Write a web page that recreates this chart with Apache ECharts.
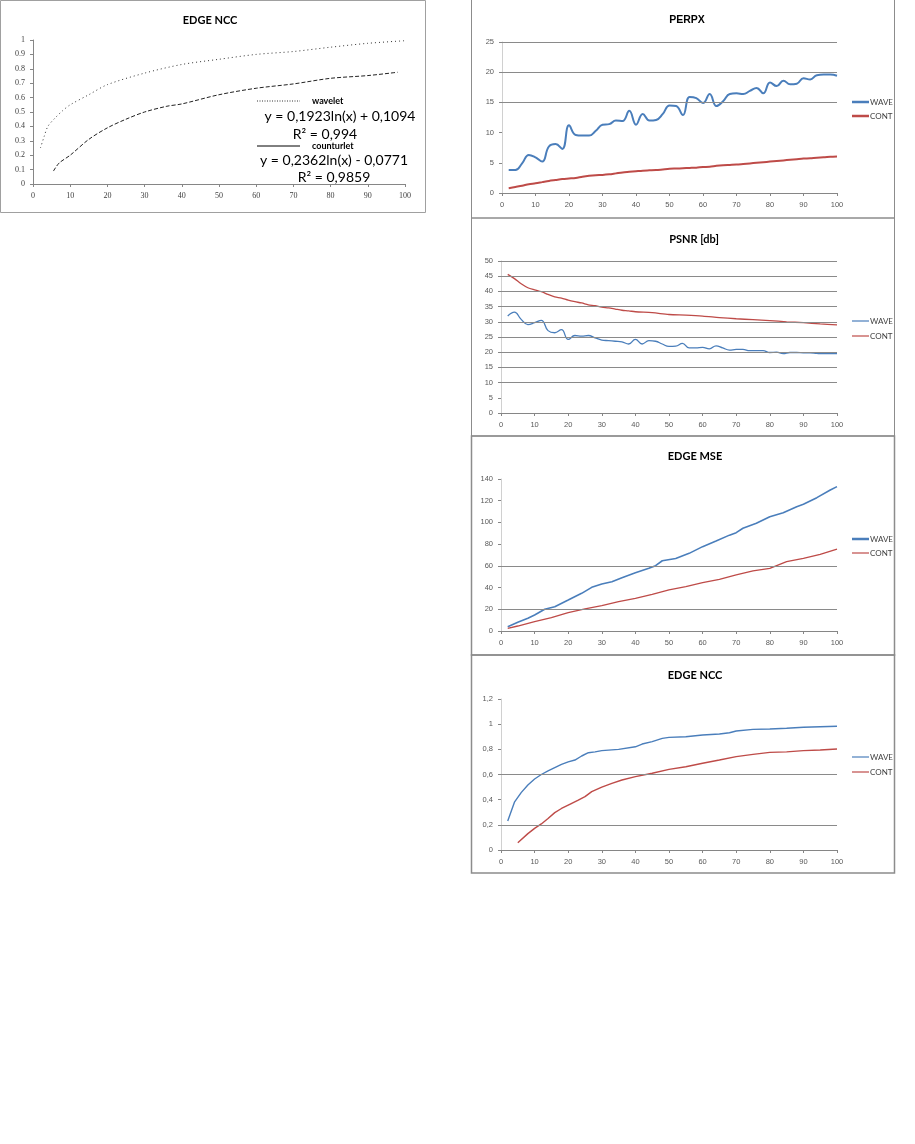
<!DOCTYPE html>
<html>
<head>
<meta charset="utf-8">
<script src="https://cdn.jsdelivr.net/npm/echarts@6/dist/echarts.min.js"></script>
<style>
html,body{margin:0;padding:0;background:#fff;}
#c{width:915px;height:1144px;}
</style>
</head>
<body>
<div id="c"></div>
<script>
// ---------- DATA ----------
const xTicks = [0,10,20,30,40,50,60,70,80,90,100];

// Left: EDGE NCC (trend lines)
const leftWaveX = [2,3,4,6,8,10,15,20,30,40,50,60,70,80,90,100];
const leftWaveY = [0.25,0.33,0.40,0.46,0.51,0.55,0.62,0.69,0.77,0.83,0.866,0.90,0.92,0.95,0.977,0.995];
const leftContX = [5.5,7,10,15,20,25,30,36,40,50,60,70,80,90,98];
const leftContY = [0.09,0.145,0.20,0.31,0.39,0.45,0.50,0.54,0.556,0.62,0.665,0.695,0.734,0.753,0.776];

// PERPX
const perpxX = [2,4,6,8,10,12,14,16,18,20,22,24,26,28,30,32,34,36,38,40,42,44,46,48,50,52,54,56,58,60,62,64,66,68,70,72,74,76,78,80,82,84,86,88,90,92,94,96,98,100];
const perpxWave = [3.8,3.8,4.9,6.3,5.9,5.2,7.7,8.1,7.3,11.2,9.6,9.5,9.5,10.3,11.3,11.4,12.0,11.9,13.6,11.3,13.1,12.0,12.1,13.1,14.5,14.4,12.9,15.9,15.7,14.9,16.4,14.4,15.2,16.4,16.5,16.4,16.9,17.4,16.5,18.3,17.7,18.6,18.0,18.1,19.0,18.8,19.5,19.6,19.6,19.4];
const perpxCont = [0.8,1.0,1.2,1.45,1.6,1.8,2.0,2.15,2.3,2.4,2.5,2.7,2.85,2.95,3.0,3.1,3.25,3.4,3.5,3.6,3.7,3.75,3.8,3.9,4.0,4.05,4.1,4.15,4.2,4.3,4.35,4.5,4.6,4.65,4.7,4.8,4.9,5.0,5.1,5.2,5.3,5.4,5.5,5.6,5.7,5.75,5.85,5.9,6.0,6.05];

// PSNR [db]
const psnrX = [2,4,6,8,10,12,14,16,18,20,22,24,26,28,30,32,34,36,38,40,42,44,46,48,50,52,54,56,58,60,62,64,66,68,70,72,74,76,78,80,82,84,86,88,90,92,94,96,98,100];
const psnrWave = [31.9,33.2,30.8,29.1,29.7,30.5,27.1,26.4,27.4,24.2,25.5,25.3,25.5,24.7,24.0,23.8,23.6,23.4,22.7,24.2,22.7,23.8,23.6,22.7,21.9,22.0,22.9,21.4,21.4,21.6,21.1,22.1,21.4,20.7,20.9,20.9,20.5,20.5,20.5,19.9,20.0,19.5,19.9,19.9,19.8,19.8,19.6,19.5,19.5,19.5];
const psnrContX = [2,4,6,8,10,12,14,16,18,20,22,24,26,28,30,32,34,36,38,40,45,50,55,60,65,70,75,80,85,90,95,100];
const psnrCont = [45.6,44.2,42.5,41.2,40.5,39.9,39.0,38.2,37.8,37.1,36.6,36.2,35.6,35.3,34.8,34.6,34.2,33.8,33.6,33.3,33.0,32.4,32.2,31.9,31.4,31.0,30.7,30.4,30.0,29.7,29.3,29.0];

// EDGE MSE
const mseWaveX = [2,5,8,10,13,16,20,24,27,30,33,36,40,44,46,48,52,56,60,64,68,70,72,76,80,84,88,90,94,98,100];
const mseWave = [4.0,8.0,11.7,14.7,20.0,22.4,28.5,34.7,40.2,43.3,45.4,49.1,53.7,57.7,60.2,64.7,66.8,71.5,77.7,82.9,88.3,90.6,94.6,99.2,105.3,109.0,114.5,116.7,122.8,129.9,133.0];
const mseContX = [2,5,10,15,20,25,30,35,40,45,50,55,60,65,70,75,80,85,90,95,100];
const mseCont = [2.5,4.6,8.6,12.3,16.9,20.3,23.3,27.0,30.1,33.8,37.8,40.8,44.5,47.6,51.6,55.3,57.7,63.9,66.9,70.6,75.5];

// EDGE NCC (right)
const nccWaveX = [2,4,6,8,10,12,14,16,18,20,22,24,26,28,30,35,40,42,45,48,50,55,60,65,68,70,75,80,85,90,95,100];
const nccWave = [0.23,0.38,0.456,0.517,0.564,0.60,0.628,0.654,0.68,0.70,0.715,0.747,0.773,0.78,0.79,0.80,0.82,0.842,0.861,0.887,0.895,0.90,0.914,0.922,0.932,0.946,0.959,0.962,0.967,0.975,0.98,0.983];
const nccContX = [5,8,10,12,14,16,18,20,23,25,27,30,33,36,40,45,50,55,60,65,70,75,80,85,90,95,100];
const nccCont = [0.058,0.13,0.172,0.207,0.25,0.297,0.33,0.357,0.397,0.424,0.464,0.50,0.53,0.556,0.583,0.61,0.641,0.662,0.689,0.715,0.742,0.76,0.776,0.78,0.79,0.795,0.803];

// visible horizontal gridlines (as drawn in the reference)
const perpxGrid = [15,20,25];
const psnrGrid = [10,15,20,25,30,35,40,45,50];
const mseGrid = [20,60];
const nccGrid = [0.2,0.6];

// ---------- STYLE ----------
const BLUE = '#4a7ebb';
const RED = '#be4b48';
const zip = (xs, ys) => xs.map((x, i) => [x, ys[i]]);

const grids = [
  {left: 33, top: 40, width: 372, height: 144},
  {left: 502, top: 42, width: 335, height: 151},
  {left: 501, top: 261, width: 336, height: 152},
  {left: 501, top: 479, width: 336, height: 152},
  {left: 501, top: 699, width: 336, height: 151}
];

function xAx(i, left) {
  return {
    type: 'value', gridIndex: i, min: 0, max: 100, interval: 10,
    axisLine: {show: true, lineStyle: {color: '#868686', width: 1}},
    axisTick: {show: true, length: 3, lineStyle: {color: '#868686'}},
    splitLine: {show: false},
    axisLabel: {
      color: left ? '#404040' : '#595959',
      fontSize: left ? 8 : 7.5,
      fontFamily: left ? 'Liberation Serif' : 'Liberation Sans',
      margin: 8
    }
  };
}
function yAx(i, max, interval, left, comma) {
  return {
    type: 'value', gridIndex: i, min: 0, max: max, interval: interval,
    axisLine: {show: true, lineStyle: {color: left ? '#868686' : '#d0d0d0', width: 1}},
    axisTick: {show: true, length: 3, lineStyle: {color: '#868686'}},
    splitLine: {show: false},
    axisLabel: {
      color: left ? '#404040' : '#595959',
      fontSize: left ? 8 : 7.5,
      fontFamily: left ? 'Liberation Serif' : 'Liberation Sans',
      margin: 8,
      formatter: v => {
        const s = String(Number(v.toFixed(2)));
        return comma ? s.replace('.', ',') : s;
      }
    }
  };
}

function gridHelper(i, vals) {
  return {
    type: 'line', xAxisIndex: i, yAxisIndex: i, data: [[0, vals[0]]],
    symbol: 'none', showSymbol: false, silent: true, z: 1,
    lineStyle: {opacity: 0},
    markLine: {
      silent: true, symbol: 'none', animation: false,
      label: {show: false},
      lineStyle: {color: '#8a8a8a', width: 1, type: 'solid'},
      emphasis: {disabled: true},
      data: vals.map(v => ({yAxis: v}))
    }
  };
}
function ser(i, xs, ys, color, width, smooth, type) {
  return {
    type: 'line', xAxisIndex: i, yAxisIndex: i, data: zip(xs, ys),
    symbol: 'none', showSymbol: false, smooth: smooth, z: 3,
    lineStyle: {color: color, width: width, type: type || 'solid'},
    emphasis: {disabled: true}
  };
}

// ---------- GRAPHICS (panels, titles, legends, annotations) ----------
const g = [];
function rect(x, y, w, h, stroke, lw) {
  g.push({type: 'rect', silent: true, z: 0, shape: {x: x, y: y, width: w, height: h},
    style: {fill: 'none', stroke: stroke, lineWidth: lw}});
}
function txt(t, x, y, opts) {
  g.push({type: 'text', silent: true, z: 10, x: x, y: y,
    style: Object.assign({text: t, textAlign: 'center', textVerticalAlign: 'middle',
      fill: '#000', fontSize: 11, fontFamily: 'Liberation Sans'}, opts)});
}
function seg(x1, y1, x2, y2, color, lw, dash) {
  g.push({type: 'line', silent: true, z: 10, shape: {x1: x1, y1: y1, x2: x2, y2: y2},
    style: {stroke: color, lineWidth: lw, lineDash: dash || null}});
}

rect(0.5, 0.5, 425, 212, '#a0a0a0', 1);
rect(471.5, -1, 423, 219, '#8c8c8c', 1);
rect(471.5, 218, 423, 218, '#8c8c8c', 1);
rect(471.5, 436, 423, 219, '#8c8c8c', 1.5);
rect(471.5, 655, 423, 218, '#8c8c8c', 1.5);

txt('EDGE NCC', 210, 20, {fontWeight: 'bold', fontSize: 11, fontFamily: 'Lato'});
txt('PERPX', 687, 20, {fontWeight: 'bold', fontSize: 10.5, fontFamily: 'Liberation Sans'});
txt('PSNR [db]', 694, 239, {fontWeight: 'bold', fontSize: 11, fontFamily: 'Lato'});
txt('EDGE MSE', 695, 456, {fontWeight: 'bold', fontSize: 11, fontFamily: 'Lato'});
txt('EDGE NCC', 695, 675, {fontWeight: 'bold', fontSize: 11, fontFamily: 'Lato'});

// legends for the right-hand charts
function leg(y1, y2, w1, w2) {
  seg(852, y1, 869, y1, BLUE, w1);
  seg(852, y2, 869, y2, RED, w2);
  txt('WAVE', 870, y1, {textAlign: 'left', fontSize: 8, fill: '#404040', fontFamily: 'Lato'});
  txt('CONT', 870, y2, {textAlign: 'left', fontSize: 8, fill: '#404040', fontFamily: 'Lato'});
}
leg(102, 116, 2.5, 2.5);
leg(321, 336, 1.2, 1.2);
leg(539, 553, 2.5, 1.2);
leg(757, 772, 1.2, 1.2);

// annotation block in the left chart
seg(257, 101, 300, 101, '#333', 1, [1, 1.5]);
txt('wavelet', 312, 101, {textAlign: 'left', fontWeight: 'bold', fontSize: 9, fontFamily: 'Lato'});
txt('y = 0,1923ln(x) + 0,1094', 340, 116, {fontSize: 14, fontFamily: 'Lato'});
txt('R² = 0,994', 325, 134, {fontSize: 14, fontFamily: 'Lato'});
seg(257, 146, 300, 146, '#000', 1);
txt('counturlet', 312, 146, {textAlign: 'left', fontWeight: 'bold', fontSize: 9, fontFamily: 'Lato'});
txt('y = 0,2362ln(x) - 0,0771', 334, 160, {fontSize: 14, fontFamily: 'Lato'});
txt('R² = 0,9859', 334, 177, {fontSize: 14, fontFamily: 'Lato'});

// ---------- CHART ----------
const chart = echarts.init(document.getElementById('c'), null, {renderer: 'canvas'});
chart.setOption({
  animation: false,
  backgroundColor: '#fff',
  grid: grids,
  xAxis: [xAx(0, true), xAx(1), xAx(2), xAx(3), xAx(4)],
  yAxis: [
    yAx(0, 1, 0.1, true, false),
    yAx(1, 25, 5, false, true),
    yAx(2, 50, 5, false, true),
    yAx(3, 140, 20, false, true),
    yAx(4, 1.2, 0.2, false, true)
  ],
  series: [
    ser(0, leftWaveX, leftWaveY, '#333', 1, 0.3, [1, 3]),
    ser(0, leftContX, leftContY, '#222', 1, 0.3, [4, 2]),
    gridHelper(1, perpxGrid),
    ser(1, perpxX, perpxWave, BLUE, 2, 0.45),
    ser(1, perpxX, perpxCont, RED, 2, 0.3),
    gridHelper(2, psnrGrid),
    ser(2, psnrX, psnrWave, BLUE, 1.3, 0.45),
    ser(2, psnrContX, psnrCont, RED, 1.3, 0.3),
    gridHelper(3, mseGrid),
    ser(3, mseWaveX, mseWave, BLUE, 1.6, false),
    ser(3, mseContX, mseCont, RED, 1.3, false),
    gridHelper(4, nccGrid),
    ser(4, nccWaveX, nccWave, BLUE, 1.4, false),
    ser(4, nccContX, nccCont, RED, 1.4, false)
  ],
  graphic: g
});
</script>
</body>
</html>
